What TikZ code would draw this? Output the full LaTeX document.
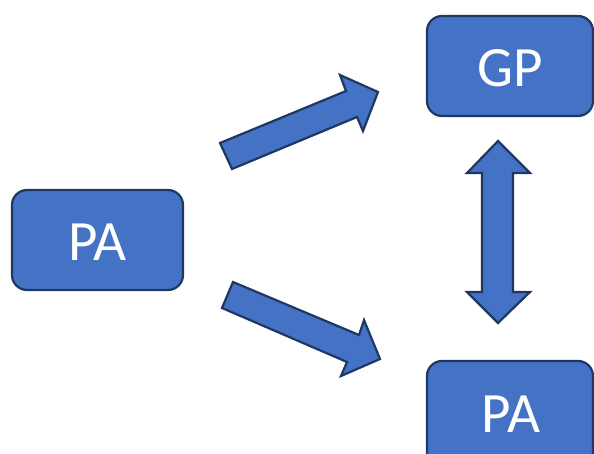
\documentclass[tikz,border=0pt]{standalone}
\usepackage{fontspec}
\setmainfont{Carlito}
\definecolor{boxfill}{HTML}{4472C4}
\definecolor{boxline}{HTML}{1F3763}
\begin{document}
\begin{tikzpicture}[x=1pt,y=-1pt,
  blk/.style={fill=boxfill,draw=boxline,line width=2.2pt,rounded corners=15pt},
  lbl/.style={text=white,font=\fontsize{57}{60}\selectfont},
  barrow/.style={fill=boxfill,draw=boxline,line width=2.2pt,line join=miter}]
\useasboundingbox (0,0) rectangle (594,454);
% boxes
\draw[blk] (12,190) rectangle (183,290);
\node[lbl] (pa1) at (97.5,242) {PA};
\draw[blk] (427,16) rectangle (593,116);
\node[lbl] (gp) at (510,68) {GP};
\draw[blk] (427,361) rectangle (593,470);
\node[lbl] (pa2) at (511,414) {PA};
% up-right arrow
\draw[barrow] (220,143) -- (346,91) -- (340,75) -- (378,92) -- (363,131) -- (357,117) -- (232,169) -- cycle;
% down-right arrow
\draw[barrow] (233,282) -- (359,335) -- (364,320) -- (380,359) -- (341,376) -- (347,362) -- (222,308) -- cycle;
% double arrow
\draw[barrow] (498,141) -- (530,173) -- (513,173) -- (513,292) -- (530,292) -- (498,323) -- (467,292) -- (482,292) -- (482,173) -- (467,173) -- cycle;
\end{tikzpicture}
\end{document}
